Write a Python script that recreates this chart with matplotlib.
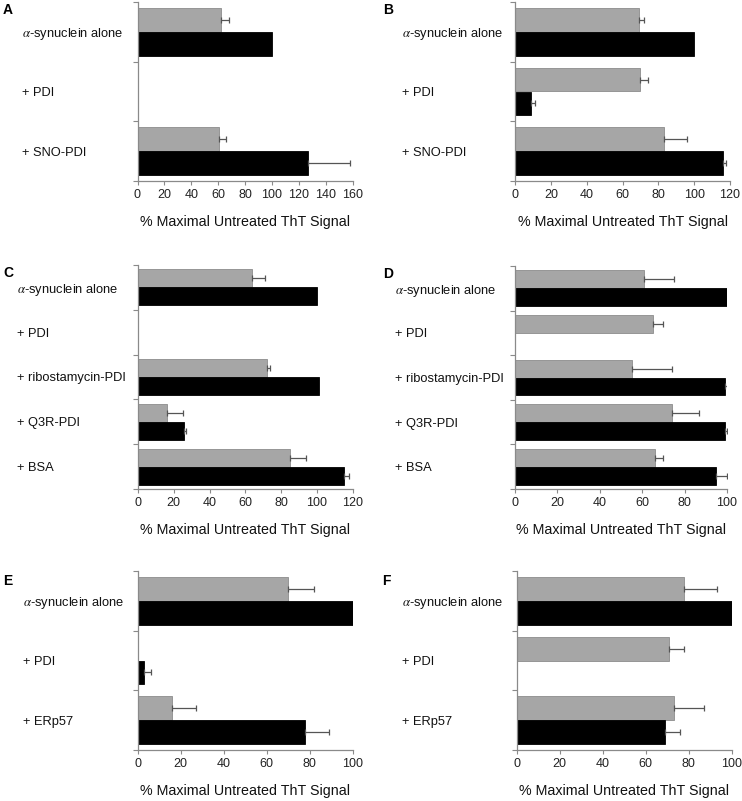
import numpy as np
import matplotlib
matplotlib.use("Agg")
import matplotlib.pyplot as plt

plt.rcParams['font.family'] = ['Liberation Sans', 'DejaVu Sans']
plt.rcParams['mathtext.fontset'] = 'stix'

nan = np.nan
ALPHA = r"$\alpha$-synuclein alone"

# Panel A
cats_A = [ALPHA, "+ PDI", "+ SNO-PDI"]
gray_A = [62, nan, 61]
gray_err_A = [6, nan, 5]
black_A = [100, nan, 127]
black_err_A = [0, nan, 31]

# Panel B
cats_B = [ALPHA, "+ PDI", "+ SNO-PDI"]
gray_B = [69, 70, 83]
gray_err_B = [3, 4, 13]
black_B = [100, 9, 116]
black_err_B = [0, 2, 2]

# Panel C
cats_C = [ALPHA, "+ PDI", "+ ribostamycin-PDI", "+ Q3R-PDI", "+ BSA"]
gray_C = [64, nan, 72, 16, 85]
gray_err_C = [7, nan, 2, 9, 9]
black_C = [100, nan, 101, 26, 115]
black_err_C = [0, nan, 0, 1, 3]

# Panel D
cats_D = [ALPHA, "+ PDI", "+ ribostamycin-PDI", "+ Q3R-PDI", "+ BSA"]
gray_D = [61, 65, 55, 74, 66]
gray_err_D = [14, 5, 19, 13, 4]
black_D = [100, nan, 99, 99, 95]
black_err_D = [0, nan, 2, 1, 5]

# Panel E
cats_E = [ALPHA, "+ PDI", "+ ERp57"]
gray_E = [70, nan, 16]
gray_err_E = [12, nan, 11]
black_E = [100, 3, 78]
black_err_E = [0, 3, 11]

# Panel F
cats_F = [ALPHA, "+ PDI", "+ ERp57"]
gray_F = [78, 71, 73]
gray_err_F = [15, 7, 14]
black_F = [100, nan, 69]
black_err_F = [0, nan, 7]

xmax = {"A": 160, "B": 120, "C": 120, "D": 100, "E": 100, "F": 100}
xstep = 20

W, H = 742, 801
fig = plt.figure(figsize=(W / 100, H / 100), dpi=100)

# (left, right, top, bottom) in pixels; label start x; letter pos
layout = {
    "A": (137.5, 352.5, 2, 181, 22, (3, 10)),
    "B": (515, 730, 2, 181, 402, (383, 10)),
    "C": (138, 352.5, 265, 489, 17, (3, 273)),
    "D": (515, 727, 266, 489, 395, (383, 274)),
    "E": (137.7, 352.7, 571, 750, 23, (3, 581)),
    "F": (516.7, 731.7, 571, 750, 402, (382, 581)),
}

panels = {
    "A": (cats_A, gray_A, gray_err_A, black_A, black_err_A),
    "B": (cats_B, gray_B, gray_err_B, black_B, black_err_B),
    "C": (cats_C, gray_C, gray_err_C, black_C, black_err_C),
    "D": (cats_D, gray_D, gray_err_D, black_D, black_err_D),
    "E": (cats_E, gray_E, gray_err_E, black_E, black_err_E),
    "F": (cats_F, gray_F, gray_err_F, black_F, black_err_F),
}

axis_col = "#8a8a8a"
for key, (cats, g, ge, b, be) in panels.items():
    l, r, t, bt, lab_x, (lx, ly) = layout[key]
    ax = fig.add_axes([l / W, 1 - bt / H, (r - l) / W, (bt - t) / H])
    n = len(cats)
    y = np.arange(n)
    h = 0.4
    g = np.array(g, dtype=float)
    b = np.array(b, dtype=float)
    ge = np.array(ge, dtype=float)
    be = np.array(be, dtype=float)
    ax.barh(y - h / 2, g, height=h, color="#a6a6a6", edgecolor="#8c8c8c", linewidth=0.6)
    ax.barh(y + h / 2, b, height=h, color="black", edgecolor="black", linewidth=0.6)
    mg = ~np.isnan(g) & (np.nan_to_num(ge) > 0)
    mb = ~np.isnan(b) & (np.nan_to_num(be) > 0)
    ax.errorbar(g[mg], (y - h / 2)[mg], xerr=[np.zeros(mg.sum()), ge[mg]], fmt="none",
                ecolor="#555555", elinewidth=0.9, capsize=2, capthick=0.9)
    ax.errorbar(b[mb], (y + h / 2)[mb], xerr=[np.zeros(mb.sum()), be[mb]], fmt="none",
                ecolor="#555555", elinewidth=0.9, capsize=2, capthick=0.9)
    ax.set_ylim(n - 0.5, -0.5)
    ax.set_xlim(0, xmax[key])
    ax.set_xticks(np.arange(0, xmax[key] + 1, xstep))
    ax.set_yticks(y)
    ax.set_yticklabels(cats)
    ax.set_yticks(np.arange(n + 1) - 0.5, minor=True)
    pad_pt = (l - lab_x) * 72 / 100
    ax.tick_params(axis="y", which="major", length=0, pad=pad_pt, labelsize=9.3, labelcolor="#111111")
    for tl in ax.get_yticklabels():
        tl.set_horizontalalignment("left")
    ax.tick_params(axis="y", which="minor", length=3.5, width=0.8, color=axis_col, direction="out")
    ax.tick_params(axis="x", which="major", length=3, width=0.8, color=axis_col, direction="out",
                   labelsize=9, labelcolor="#222222", pad=3)
    for s in ["top", "right"]:
        ax.spines[s].set_visible(False)
    for s in ["left", "bottom"]:
        ax.spines[s].set_color(axis_col)
        ax.spines[s].set_linewidth(0.9)
    ax.set_xlabel("% Maximal Untreated ThT Signal", fontsize=10.3, labelpad=10, color="#111111")
    fig.text(lx / W, 1 - ly / H, key, fontsize=10, fontweight="bold", ha="left", va="center")

fig.savefig("out.png", dpi=100)
